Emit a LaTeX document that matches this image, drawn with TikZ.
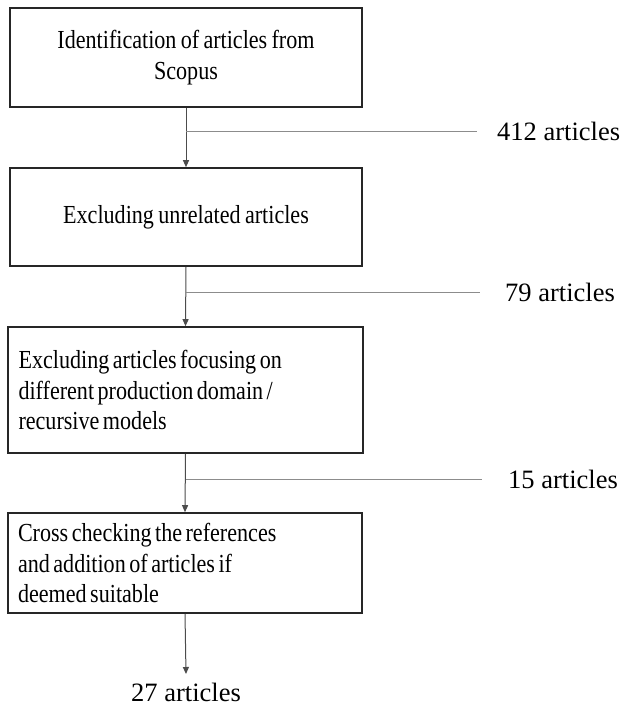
\documentclass[tikz,border=0pt]{standalone}
\usepackage{fontspec}
\setmainfont{Liberation Serif}
\newfontfamily\boxfont[FakeStretch=0.85]{Liberation Serif}
\newcommand\tightsp{\spaceskip=3.5pt plus 1pt\relax}
\usetikzlibrary{arrows.meta}
\begin{document}
\begin{tikzpicture}[x=1pt,y=-1pt,
  box/.style={draw=black!85,line width=1.6pt,minimum width=352pt,inner sep=0pt,font=\boxfont\fontsize{26}{30.5}\selectfont},
  lbox/.style={box,text width=334pt,align=left},
  cbox/.style={box,text width=340pt,align=center},
  flow/.style={draw=black!70,line width=1pt,-{Triangle[length=7pt,width=6pt]}},
  branch/.style={draw=black!45,line width=1pt},
  lab/.style={font=\fontsize{26.5}{31}\selectfont,anchor=west,inner sep=0pt}]
\useasboundingbox (0,0) rectangle (625,706);
\node[cbox,minimum height=99pt] (b1) at (186,57.5) {\tightsp Identification of articles from\\Scopus};
\node[cbox,minimum height=98pt] (b2) at (186,217) {\tightsp Excluding unrelated articles};
\node[lbox,minimum width=355pt,minimum height=126pt] (b3) at (185.5,390) {\tightsp Excluding articles focusing on\\different production domain /\\recursive models};
\node[lbox,minimum width=354pt,minimum height=100pt] (b4) at (185,563) {\tightsp Cross checking the references\\and addition of articles if\\deemed suitable};
\node[lab] (l1) at (497,131) {412 articles};
\node[lab] (l2) at (505,292) {79 articles};
\node[lab] (l3) at (508,479) {15 articles};
\node[font=\fontsize{26.5}{31}\selectfont,inner sep=0pt] (l4) at (186,692) {27 articles};
\coordinate (j1) at (b1.south |- l1);
\coordinate (j2) at (b2.south |- l2);
\coordinate (j3) at (b3.south |- l3);
\coordinate (e1) at (477,131);
\coordinate (e2) at (480,292);
\coordinate (e3) at (482,479);
\coordinate (t4) at (186,674);
\draw[flow] (b1.south) -- (b2.north);
\draw[flow] (b2.south) -- (b3.north);
\draw[flow] (b3.south) -- (b4.north);
\draw[flow] (b4.south) -- (t4);
\draw[branch] (j1) -- (e1);
\draw[branch] (j2) -- (e2);
\draw[branch] (j3) -- (e3);
\end{tikzpicture}
\end{document}
